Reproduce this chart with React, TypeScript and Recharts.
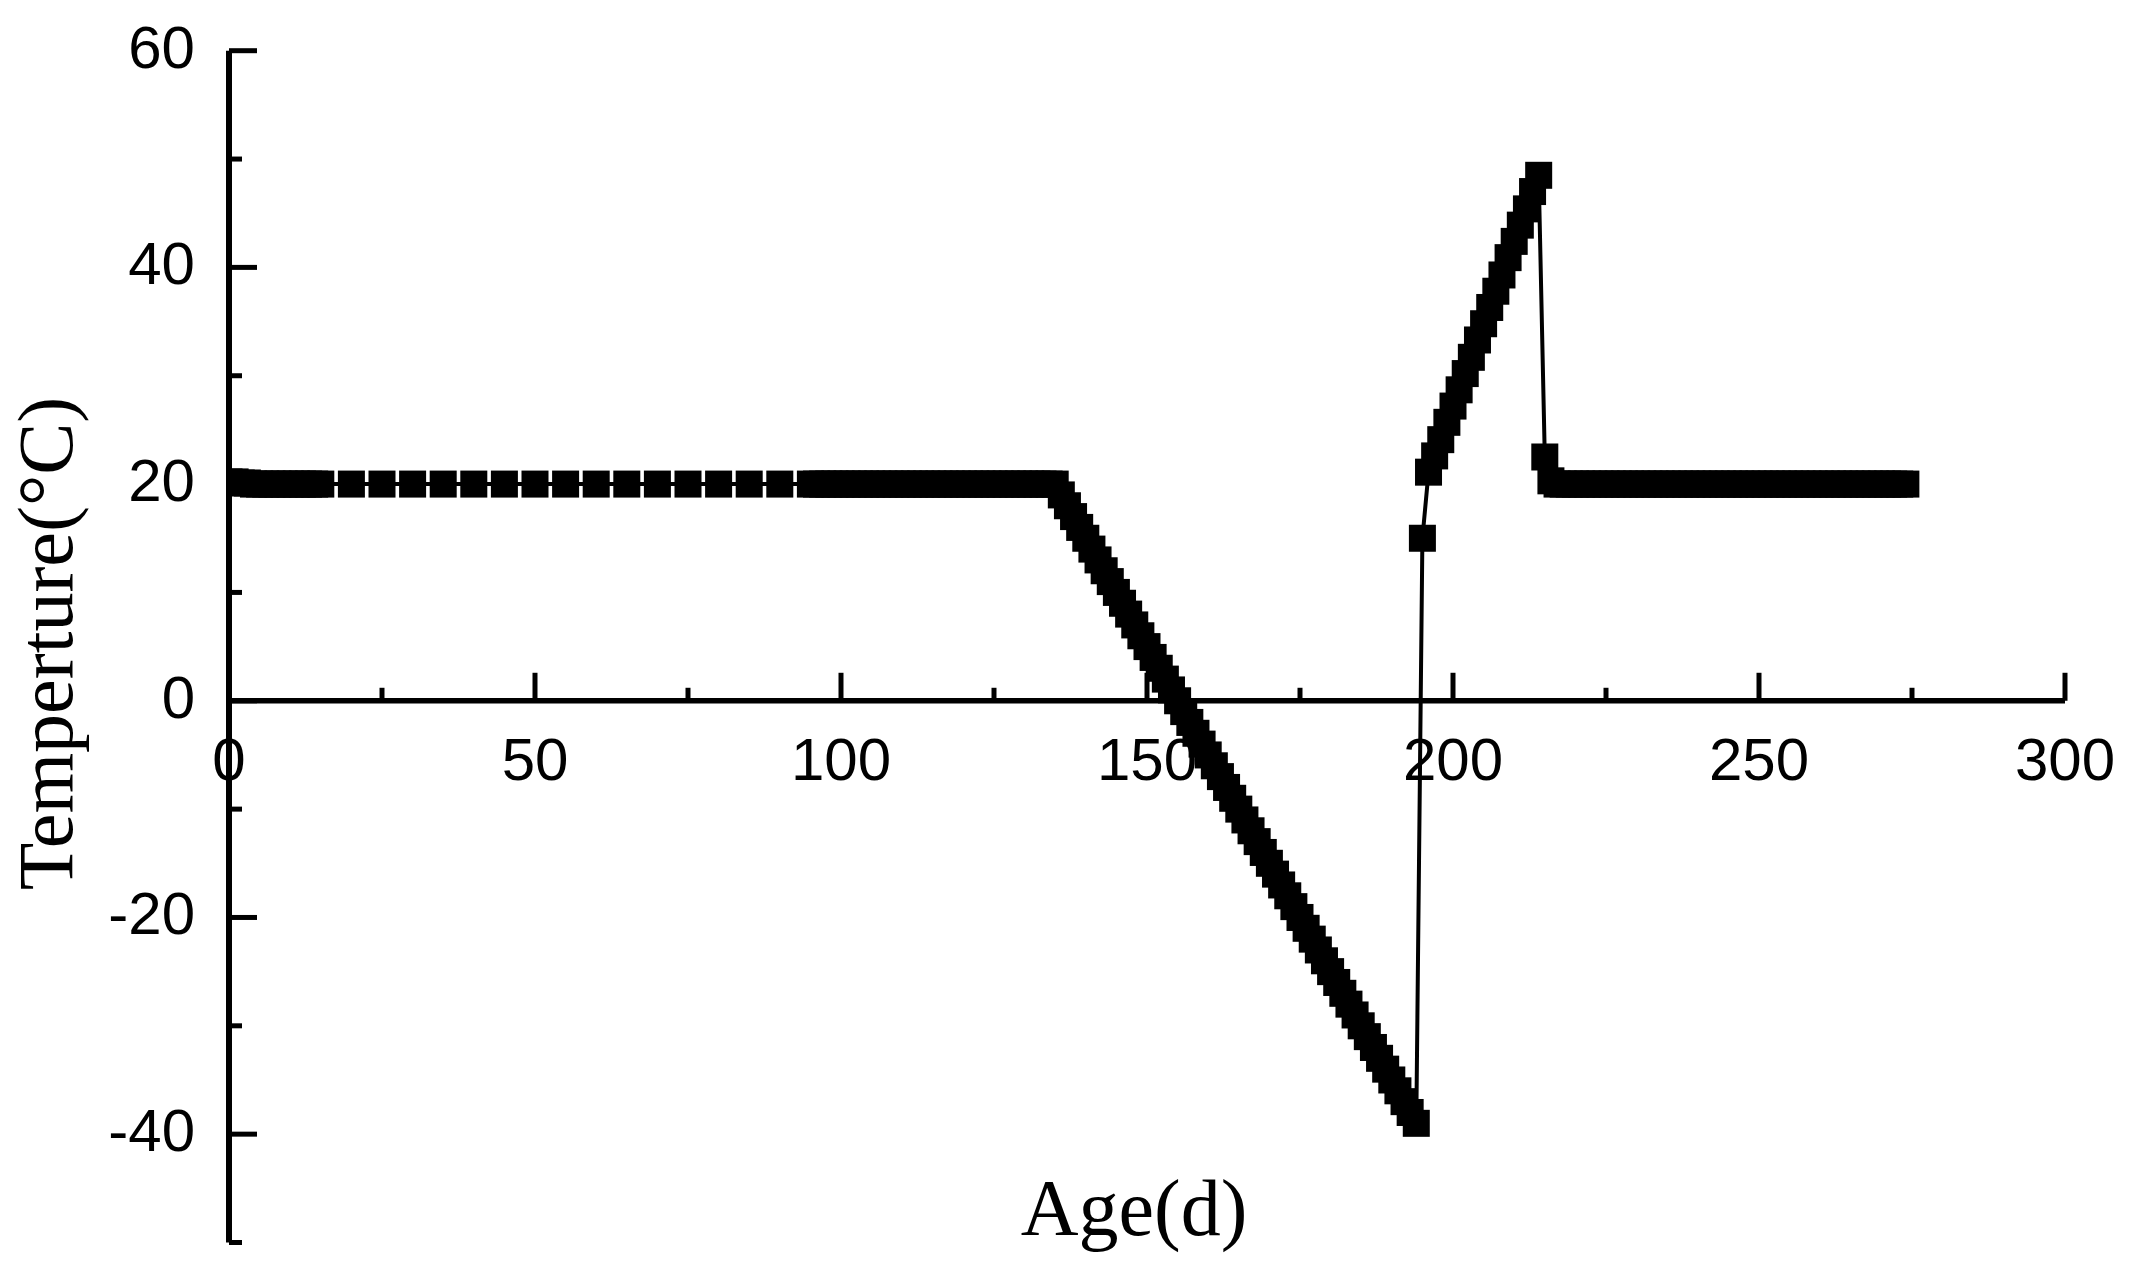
import React from 'react';
import { LineChart, Line, XAxis, YAxis, ReferenceLine, ReferenceDot } from 'recharts';

// Age (days) and temperature (°C), segment by segment
const ageEarly = [0, 1, 2, 3, 4, 5, 6, 7, 8, 9, 10, 11, 12, 13, 14, 15];
const tempEarly = [20.2, 20.2, 20.1, 20.1, 20, 20, 20, 20, 20, 20, 20, 20, 20, 20, 20, 20];

const ageSparse = [20, 25, 30, 35, 40, 45, 50, 55, 60, 65, 70, 75, 80, 85, 90];
const tempSparse = [20, 20, 20, 20, 20, 20, 20, 20, 20, 20, 20, 20, 20, 20, 20];

const ageHold = [95, 96, 97, 98, 99, 100, 101, 102, 103, 104, 105, 106, 107, 108, 109, 110, 111, 112, 113, 114, 115, 116, 117, 118, 119, 120, 121, 122, 123, 124, 125, 126, 127, 128, 129, 130, 131, 132, 133, 134, 135];
const tempHold = [20, 20, 20, 20, 20, 20, 20, 20, 20, 20, 20, 20, 20, 20, 20, 20, 20, 20, 20, 20, 20, 20, 20, 20, 20, 20, 20, 20, 20, 20, 20, 20, 20, 20, 20, 20, 20, 20, 20, 20, 20];

const ageCool = [136, 137, 138, 139, 140, 141, 142, 143, 144, 145, 146, 147, 148, 149, 150, 151, 152, 153, 154, 155, 156, 157, 158, 159, 160, 161, 162, 163, 164, 165, 166, 167, 168, 169, 170, 171, 172, 173, 174, 175, 176, 177, 178, 179, 180, 181, 182, 183, 184, 185, 186, 187, 188, 189, 190, 191, 192, 193, 194];
const tempCool = [19, 18, 17, 16, 15, 14, 13, 12, 11, 10, 9, 8, 7, 6, 5, 4, 3, 2, 1, 0, -1, -2, -3, -4, -5, -6, -7, -8, -9, -10, -11, -12, -13, -14, -15, -16, -17, -18, -19, -20, -21, -22, -23, -24, -25, -26, -27, -28, -29, -30, -31, -32, -33, -34, -35, -36, -37, -38, -39];

const ageHeat = [195, 196, 197, 198, 199, 200, 201, 202, 203, 204, 205, 206, 207, 208, 209, 210, 211, 212, 213, 214];
const tempHeat = [15, 21.1, 22.6, 24.1, 25.7, 27.2, 28.7, 30.2, 31.7, 33.3, 34.8, 36.3, 37.8, 39.3, 40.9, 42.4, 43.9, 45.4, 47.0, 48.5];

const ageFinal = [215, 216, 217, 218, 219, 220, 221, 222, 223, 224, 225, 226, 227, 228, 229, 230, 231, 232, 233, 234, 235, 236, 237, 238, 239, 240, 241, 242, 243, 244, 245, 246, 247, 248, 249, 250, 251, 252, 253, 254, 255, 256, 257, 258, 259, 260, 261, 262, 263, 264, 265, 266, 267, 268, 269, 270, 271, 272, 273, 274];
const tempFinal = [22.5, 20.3, 20, 20, 20, 20, 20, 20, 20, 20, 20, 20, 20, 20, 20, 20, 20, 20, 20, 20, 20, 20, 20, 20, 20, 20, 20, 20, 20, 20, 20, 20, 20, 20, 20, 20, 20, 20, 20, 20, 20, 20, 20, 20, 20, 20, 20, 20, 20, 20, 20, 20, 20, 20, 20, 20, 20, 20, 20, 20];

const xTicks = [0, 25, 50, 75, 100, 125, 150, 175, 200, 225, 250, 275, 300];
const xMajor = [0, 50, 100, 150, 200, 250, 300];
const yTicks = [-50, -40, -30, -20, -10, 0, 10, 20, 30, 40, 50, 60];
const yMajor = [-40, -20, 0, 20, 40, 60];

const xTitle = 'Age(d)';
const yTitle = 'Temperture(°C)';

const segments: [number[], number[]][] = [
  [ageEarly, tempEarly],
  [ageSparse, tempSparse],
  [ageHold, tempHold],
  [ageCool, tempCool],
  [ageHeat, tempHeat],
  [ageFinal, tempFinal],
];

const data = segments.flatMap(([ages, temps]) => ages.map((a, i) => ({ age: a, temp: temps[i] })));

const SANS = '"Liberation Sans", Arial, sans-serif';
const SERIF = '"Liberation Serif", "Times New Roman", serif';

const YTick = (props: any) => {
  const { x, y, payload } = props;
  const v = payload.value;
  const major = yMajor.includes(v);
  return (
    <g>
      <line x1={x} x2={x + (major ? 28 : 13)} y1={y} y2={y} stroke="#000" strokeWidth={5} />
      {major && (
        <text x={x - 34} y={y + 17} textAnchor="end" fontSize={60} fontFamily={SANS} fill="#000">
          {String(v)}
        </text>
      )}
    </g>
  );
};

const XTickShape = (value: number) => (p: any) => {
  const major = xMajor.includes(value);
  return (
    <g>
      <line x1={p.cx} x2={p.cx} y1={p.cy} y2={p.cy - (major ? 28 : 13)} stroke="#000" strokeWidth={5} />
      {major && (
        <text x={p.cx} y={p.cy + 79} textAnchor="middle" fontSize={60} fontFamily={SANS} fill="#000">
          {String(value)}
        </text>
      )}
    </g>
  );
};

const Square = (p: any) => (
  <rect key={`sq-${p.index}`} x={p.cx - 13.5} y={p.cy - 13.5} width={27} height={27} fill="#000" />
);

export default function App() {
  return (
    <div style={{ position: 'absolute', left: 0, top: 0, background: '#fff' }}>
      <LineChart
        width={2138}
        height={1285}
        data={data}
        margin={{ top: 50.7, right: 73, left: 0, bottom: 0 }}
      >
        <XAxis
          dataKey="age"
          type="number"
          domain={[0, 300]}
          ticks={xTicks}
          allowDataOverflow
          axisLine={false}
          tickLine={false}
          tick={false}
          height={42.5}
          label={{
            content: (lp: any) => {
              const vb = lp.viewBox;
              return (
                <text
                  x={vb.x + vb.width / 2 - 13}
                  y={vb.y - 8}
                  textAnchor="middle"
                  fontSize={80}
                  fontFamily={SERIF}
                  fill="#000"
                >
                  {xTitle}
                </text>
              );
            },
          }}
        />
        <YAxis
          type="number"
          domain={[-50, 60]}
          ticks={yTicks}
          interval={0}
          allowDataOverflow
          width={229}
          tickSize={0}
          tickMargin={0}
          tickLine={false}
          axisLine={{ stroke: '#000', strokeWidth: 6 }}
          tick={<YTick />}
          label={{
            content: (lp: any) => {
              const vb = lp.viewBox;
              const cx = 72;
              const cy = vb.y + vb.height / 2 - 3;
              return (
                <text
                  x={cx}
                  y={cy}
                  textAnchor="middle"
                  fontSize={78}
                  fontFamily={SERIF}
                  fill="#000"
                  transform={`rotate(-90, ${cx}, ${cy})`}
                >
                  {yTitle}
                </text>
              );
            },
          }}
        />
        <ReferenceLine y={0} stroke="#000" strokeWidth={5.5} />
        {xTicks.map((t) => (
          <ReferenceDot key={`xt-${t}`} x={t} y={0} r={0} shape={XTickShape(t)} />
        ))}
        <Line
          type="linear"
          dataKey="temp"
          stroke="#000"
          strokeWidth={4}
          dot={Square}
          activeDot={false}
          isAnimationActive={false}
        />
      </LineChart>
    </div>
  );
}
